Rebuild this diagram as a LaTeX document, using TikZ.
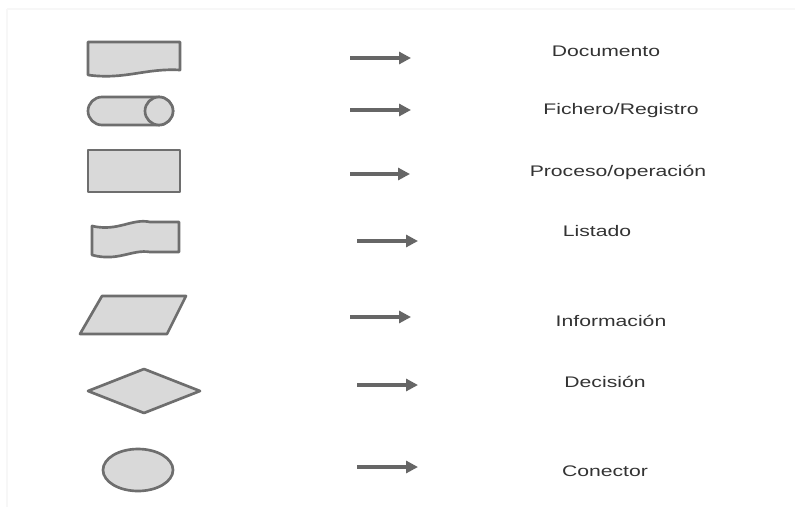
\documentclass[tikz,border=0pt]{standalone}
\usepackage{fontspec}
\usetikzlibrary{arrows.meta}
\newfontfamily\lblfont[FakeStretch=1.38]{Liberation Sans}
\definecolor{symfill}{HTML}{D9D9D9}
\definecolor{symline}{HTML}{6E6E6E}
\definecolor{arrowgray}{HTML}{666666}
\definecolor{labelgray}{HTML}{333333}
\tikzset{
  symbol/.style={fill=symfill, draw=symline, line width=2pt, line join=round},
  pointer/.style={draw=arrowgray, line width=3pt, -{Triangle[length=9pt,width=9pt]}},
  label text/.style={font=\lblfont\fontsize{11.5pt}{13pt}\selectfont, text=labelgray, inner sep=0pt}
}
\begin{document}
\begin{tikzpicture}[x=0.75pt,y=-0.75pt]
  \useasboundingbox (0,0) rectangle (795,507);
  \fill[white] (0,0) rectangle (795,507);
  % faint frame edges
  \draw[black!3, line width=0.8pt] (7,9) -- (795,9);
  \draw[black!3, line width=0.8pt] (7,9) -- (7,507);

  % Documento
  \draw[symbol] (88,42) -- (180,42) -- (180,70)
      .. controls (145,68) and (125,80) .. (88,75) -- cycle;
  % Fichero/Registro
  \draw[symbol, rounded corners=10.5pt] (88,97) rectangle (173,125);
  \draw[symbol] (159,111) circle [x radius=14, y radius=14];
  % Proceso/operacion
  \draw[symbol] (88,150) rectangle (180,192);
  % Listado
  \draw[symbol] (92,226) .. controls (118,232) and (132,218) .. (150,222)
      -- (179,222) -- (179,252) -- (150,252)
      .. controls (132,249) and (118,262) .. (92,255) -- cycle;
  % Informacion
  \draw[symbol] (102,296) -- (186,296) -- (167,334) -- (80,334) -- cycle;
  % Decision
  \draw[symbol] (144,369) -- (200,391) -- (144,413) -- (88,391) -- cycle;
  % Conector
  \draw[symbol] (138,470) ellipse [x radius=35, y radius=21];

  % arrows
  \coordinate (a1s) at (350,58);  \coordinate (a1e) at (411,58);
  \coordinate (a2s) at (350,110); \coordinate (a2e) at (411,110);
  \coordinate (a3s) at (350,174); \coordinate (a3e) at (410,174);
  \coordinate (a4s) at (357,241); \coordinate (a4e) at (418,241);
  \coordinate (a5s) at (350,317); \coordinate (a5e) at (411,317);
  \coordinate (a6s) at (357,385); \coordinate (a6e) at (418,385);
  \coordinate (a7s) at (357,467); \coordinate (a7e) at (418,467);
  \foreach \i in {1,...,7} \draw[pointer] (a\i s) -- (a\i e);

  % labels
  \node[label text] (l1) at (606,51)  {Documento};
  \node[label text] (l2) at (621,111) {Fichero/Registro};
  \node[label text] (l3) at (618,172) {Proceso/operación};
  \node[label text] (l4) at (597,231) {Listado};
  \node[label text] (l5) at (611,321) {Información};
  \node[label text] (l6) at (605,382) {Decisión};
  \node[label text] (l7) at (605,471) {Conector};
\end{tikzpicture}
\end{document}
